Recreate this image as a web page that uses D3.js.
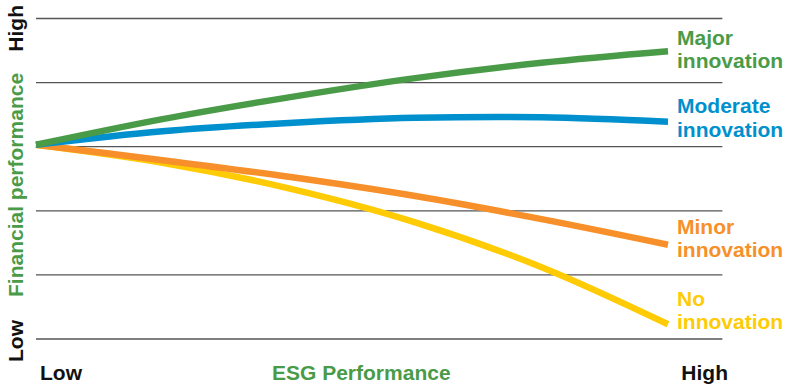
<!DOCTYPE html>
<html>
<head>
<meta charset="utf-8">
<script src="https://cdn.jsdelivr.net/npm/d3@7"></script>
<style>
  html, body { margin: 0; padding: 0; background: #fff; }
  svg text { font-family: "Liberation Sans", Arial, sans-serif; font-weight: bold; }
</style>
</head>
<body>
<svg id="chart" width="785" height="389"></svg>
<script>
// ESG performance sample points (0 = Low, 100 = High)
const esgPoints = [0, 20, 40, 60, 80, 100];
// Financial performance (0 = Low grid line, 5 = High grid line)
const majorInnovation    = [3.03, 3.43, 3.77, 4.07, 4.31, 4.49];
const moderateInnovation = [3.03, 3.24, 3.37, 3.45, 3.46, 3.39];
const minorInnovation    = [3.03, 2.79, 2.53, 2.23, 1.87, 1.47];
const noInnovation       = [3.03, 2.75, 2.35, 1.82, 1.12, 0.23];
const gridValues = [0, 1, 2, 3, 4, 5];
const seriesNames = ["No innovation", "Minor innovation", "Moderate innovation", "Major innovation"];
const labelFirstWords = ["No", "Minor", "Moderate", "Major"];
const labelAnchors = [0.52, 1.64, 3.52, 4.59];
const xTickLabels = ["Low", "High"];
const yTickLabels = ["Low", "High"];
const xTitle = "ESG Performance";
const yTitle = "Financial performance";

const colors = ["#ffcb05", "#f7902a", "#0090cd", "#4a9b48"];
const allSeries = [noInnovation, minorInnovation, moderateInnovation, majorInnovation];

const svg = d3.select("#chart");
const x = d3.scaleLinear().domain([0, 100]).range([36, 668]);
const y = d3.scaleLinear().domain([0, 5]).range([339, 18.5]);
const gridEnd = 108.6;

// grid lines
svg.append("g").selectAll("line").data(gridValues).join("line")
  .attr("x1", x(0)).attr("x2", x(gridEnd))
  .attr("y1", d => y(d)).attr("y2", d => y(d))
  .attr("stroke", "#555").attr("stroke-width", 1.3);

// lines
const line = d3.line()
  .x((d, i) => x(esgPoints[i]))
  .y(d => y(d))
  .curve(d3.curveCatmullRom.alpha(0.5));

svg.append("g").selectAll("path").data(allSeries).join("path")
  .attr("d", d => line(d))
  .attr("fill", "none")
  .attr("stroke", (d, i) => colors[i])
  .attr("stroke-width", 6.5)
  .attr("stroke-linecap", "butt");

// series labels
const lg = svg.append("g");
seriesNames.forEach((name, i) => {
  const t = lg.append("text")
    .attr("x", 677)
    .attr("y", y(labelAnchors[i]))
    .attr("fill", colors[i])
    .style("font-size", "21px");
  t.append("tspan").attr("x", 677).text(labelFirstWords[i]);
  t.append("tspan").attr("x", 677).attr("dy", 23.5).text(name.slice(labelFirstWords[i].length + 1));
});

// x axis labels
svg.append("text").attr("x", 40).attr("y", 380).attr("fill", "#111")
  .style("font-size", "21px").text(xTickLabels[0]);
svg.append("text").attr("x", 728).attr("y", 380).attr("fill", "#111")
  .attr("text-anchor", "end").style("font-size", "21px").text(xTickLabels[1]);
svg.append("text").attr("x", 272).attr("y", 380).attr("fill", "#4a9b48")
  .style("font-size", "21px").text(xTitle);

// y axis labels (rotated)
const yl = (txt, cy, anchor, color) => svg.append("text")
  .attr("transform", `translate(23,${cy}) rotate(-90)`)
  .attr("text-anchor", anchor)
  .attr("fill", color)
  .style("font-size", "21px")
  .text(txt);
yl(yTickLabels[0], 362, "start", "#111");
yl(yTickLabels[1], 5, "end", "#111");
yl(yTitle, 297, "start", "#4a9b48");
</script>
</body>
</html>
